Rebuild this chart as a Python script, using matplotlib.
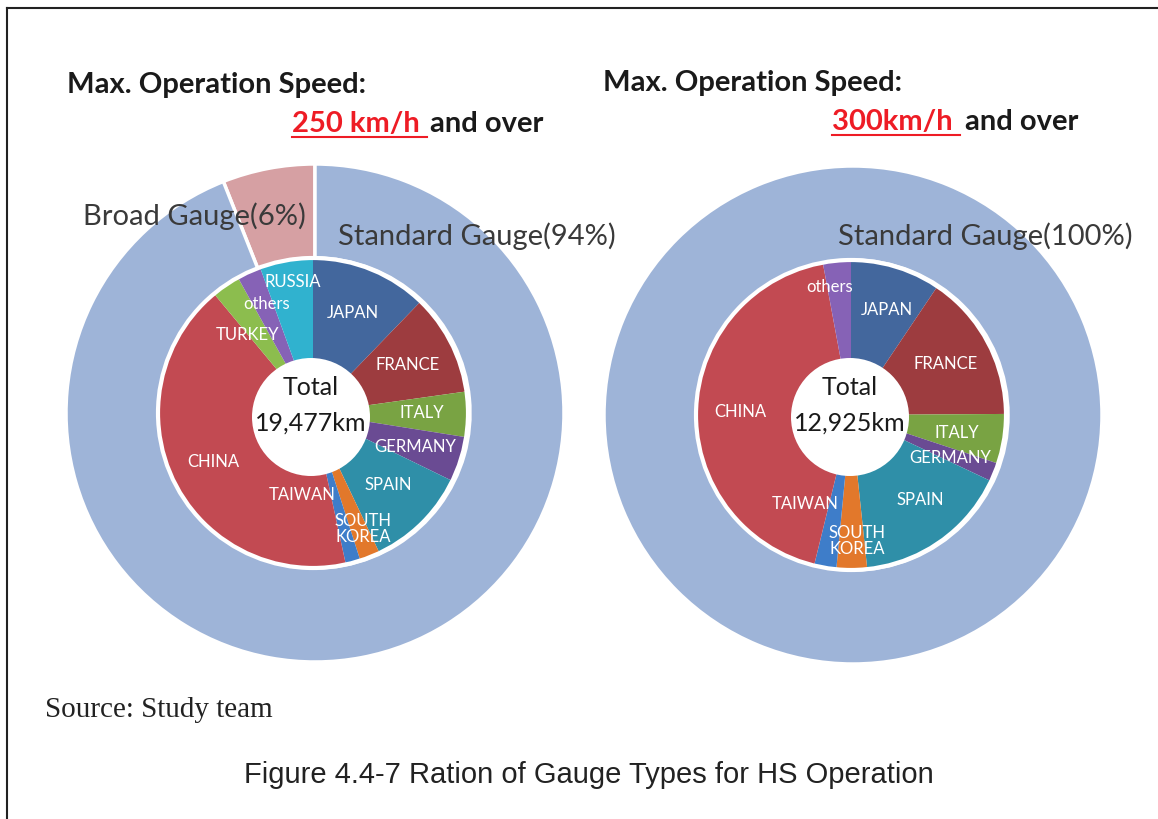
import matplotlib
matplotlib.use("Agg")
import matplotlib.pyplot as plt
from matplotlib.patches import Circle

# gauge shares (outer ring)
gauge_left = ["Broad Gauge(6%)", "Standard Gauge(94%)"]
gauge_left_val = [6, 94]
gauge_right = ["Standard Gauge(100%)"]
gauge_right_val = [100]

# inner pies, km by country
countries_250 = ["JAPAN", "FRANCE", "ITALY", "GERMANY", "SPAIN", "SOUTH\nKOREA",
                 "TAIWAN", "CHINA", "TURKEY", "others", "RUSSIA"]
km_250 = [2380, 2056, 920, 920, 2088, 412, 300, 8253, 579, 487, 1082]
total_250 = "19,477km"

countries_300 = ["JAPAN", "FRANCE", "ITALY", "GERMANY", "SPAIN", "SOUTH\nKOREA",
                 "TAIWAN", "CHINA", "others"]
km_300 = [1217, 2000, 671, 251, 2107, 412, 300, 5590, 377]
total_300 = "12,925km"

colors = {"JAPAN": "#43679d", "FRANCE": "#9d3c3f", "ITALY": "#79a343",
          "GERMANY": "#6a4b93", "SPAIN": "#2f8fa8", "SOUTH\nKOREA": "#e2782b",
          "TAIWAN": "#3e7dc9", "CHINA": "#c24a52", "TURKEY": "#8cbd4e",
          "others": "#8662b6", "RUSSIA": "#30b2cf"}
std_col = "#9eb4d8"
broad_col = "#d6a0a3"

H = 820
fig = plt.figure(figsize=(11.58, 8.2), dpi=100)
ax = fig.add_axes([0, 0, 1, 1])

# label positions in pixels (x, y from top)
lab_250 = {"RUSSIA": (293, 282), "others": (267, 304), "JAPAN": (353, 313),
           "TURKEY": (247, 335), "FRANCE": (408, 365), "ITALY": (422, 413),
           "GERMANY": (415, 447), "CHINA": (213, 462), "SPAIN": (388, 485),
           "TAIWAN": (302, 495), "SOUTH\nKOREA": (363, 529)}
lab_300 = {"others": (830, 287), "JAPAN": (887, 310), "FRANCE": (946, 364),
           "CHINA": (740, 412), "ITALY": (957, 433), "GERMANY": (950, 458),
           "SPAIN": (920, 500), "TAIWAN": (805, 504), "SOUTH\nKOREA": (857, 541)}

sans = "Lato"


def donut(cx, cy, outer_vals, outer_cols, explode, names, vals, labpos, total, hole):
    cy = H - cy
    ax.pie(outer_vals, colors=outer_cols, startangle=90, counterclock=True,
           center=(cx, cy), radius=249, explode=explode,
           wedgeprops=dict(width=94, edgecolor="white", linewidth=2.5))
    ax.pie(vals, colors=[colors[n] for n in names], startangle=90, counterclock=False,
           center=(cx - 2, cy), radius=155, wedgeprops=dict(linewidth=0))
    ax.add_patch(Circle((cx - 2, cy), 155, fill=False, ec="white", lw=3, zorder=3))
    hx, hy, hr = hole
    ax.add_patch(Circle((hx, H - hy), hr, fc="white", ec="none", zorder=4))
    for n in names:
        x, y = labpos[n]
        ax.text(x, H - y, n, color="white", fontsize=12, family=sans, ha="center",
                va="center", linespacing=1.0, zorder=5)
    ax.text(hx, H - 388, "Total", fontsize=18, family=sans, ha="center", va="center",
            color="#1a1a1a", zorder=5)
    ax.text(hx, H - 423, total, fontsize=18, family=sans, ha="center", va="center",
            color="#1a1a1a", zorder=5)


donut(315, 414, gauge_left_val, [broad_col, std_col], [0.025, 0], countries_250, km_250,
      lab_250, total_250, (311, 418, 59))
donut(853, 416, gauge_right_val, [std_col], None, countries_300, km_300,
      lab_300, total_300, (850, 418, 59))

gray = "#3a3a3a"
ax.text(83, H - 216, gauge_left[0], fontsize=21, family=sans, color=gray, va="center")
ax.text(338, H - 236, gauge_left[1], fontsize=21, family=sans, color=gray, va="center")
ax.text(838, H - 236, gauge_right[0], fontsize=21, family=sans, color=gray, va="center")

ax.set_xlim(0, 1158)
ax.set_ylim(0, H)
ax.set_aspect("auto")
ax.axis("off")

# headings
fig.canvas.draw()
r = fig.canvas.get_renderer()
for x0, xr, y1, y2, speed in [(67, 543, 85, 124, 292), (603, 1078, 83, 122, 832)]:
    ax.text(x0, H - y1, "Max. Operation Speed:", fontsize=21, family=sans,
            weight="bold", color="#1a1a1a", va="center")
    ax.text(xr, H - y2, "and over", fontsize=21, family=sans, weight="bold",
            color="#1a1a1a", va="center", ha="right")
    t = ax.text(speed, H - y2, "250 km/h " if x0 < 500 else "300km/h ", fontsize=21,
                family=sans, weight="bold", color="#ee1c25", va="center")
    bb = t.get_window_extent(renderer=r)
    ax.plot([bb.x0, bb.x1], [H - y2 - 14, H - y2 - 14], color="#ee1c25", lw=1.5)

ax.text(45, H - 710, "Source: Study team", fontsize=21, family="Liberation Serif",
        color="#222222", va="center")
ax.text(589, H - 775, "Figure 4.4-7 Ration of Gauge Types for HS Operation", fontsize=21,
        family="Liberation Sans", color="#222222", va="center", ha="center")

# page frame
ax.plot([7, 1158], [H - 9, H - 9], color="#222222", lw=1.5)
ax.plot([7, 7], [H - 9, 0], color="#222222", lw=1.5)

ax.set_xlim(0, 1158)
ax.set_ylim(0, H)
fig.savefig("out.png", dpi=100, facecolor="white")
